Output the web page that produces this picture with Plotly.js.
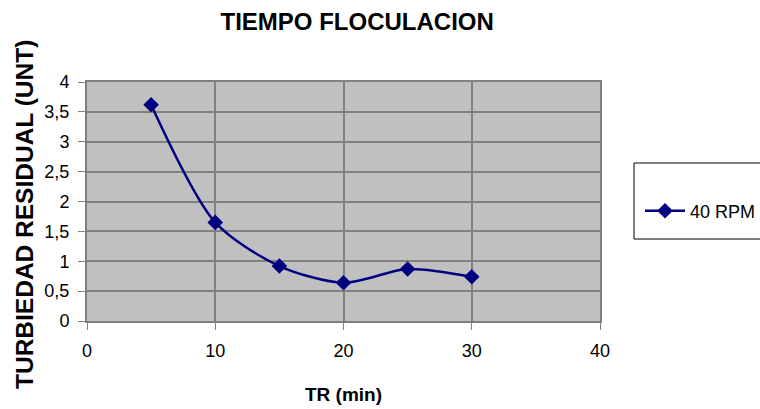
<!DOCTYPE html>
<html>
<head>
<meta charset="utf-8">
<script src="https://cdn.plot.ly/plotly-3.0.1.min.js"></script>
<style>html,body{margin:0;padding:0;background:#fff;}#chart{width:760px;height:409px;}</style>
</head>
<body>
<div id="chart"></div>
<script>
const tiempo = [5, 10, 15, 20, 25, 30];
const turbiedad = [3.62, 1.65, 0.92, 0.64, 0.87, 0.74];
const serieNombre = '40 RPM';
const tituloGrafico = 'TIEMPO FLOCULACION';
const tituloX = 'TR (min)';
const tituloY = 'TURBIEDAD RESIDUAL (UNT)';

const trace = {
  x: tiempo,
  y: turbiedad,
  name: serieNombre,
  type: 'scatter',
  mode: 'lines+markers',
  line: {color: '#000080', width: 2.5, shape: 'spline', smoothing: 0.8},
  marker: {symbol: 'diamond', size: 12, color: '#000080'}
};

const fam = '"Liberation Sans", Arial, sans-serif';
const layout = {
  width: 760, height: 409,
  margin: {l: 87, r: 160, t: 82, b: 88, autoexpand: false},
  paper_bgcolor: '#ffffff',
  plot_bgcolor: '#c0c0c0',
  separators: ',.',
  showlegend: true,
  title: {text: '<b>' + tituloGrafico + '</b>', x: 0.47, xanchor: 'center', y: 0.946, yanchor: 'middle',
          font: {family: fam, size: 24, color: '#000'}},
  xaxis: {
    range: [0, 40], dtick: 10, tick0: 0,
    showgrid: true, gridcolor: '#808080', gridwidth: 2,
    zeroline: false,
    showline: true, linecolor: '#808080', linewidth: 2, mirror: true,
    ticks: 'outside', ticklen: 7, tickcolor: '#808080', tickwidth: 1,
    ticklabelstandoff: 5,
    tickfont: {family: fam, size: 18, color: '#000'},
    title: {text: '<b>' + tituloX + '</b>', font: {family: fam, size: 19, color: '#000'}, standoff: 28}
  },
  yaxis: {
    range: [0, 4], dtick: 0.5, tick0: 0,
    showgrid: true, gridcolor: '#808080', gridwidth: 2,
    zeroline: false,
    showline: true, linecolor: '#808080', linewidth: 2, mirror: true,
    ticks: 'outside', ticklen: 7, tickcolor: '#808080', tickwidth: 1,
    ticklabelstandoff: 5,
    tickfont: {family: fam, size: 18, color: '#000'}
  },
  annotations: [{
    text: '<b>' + tituloY + '</b>', textangle: -90,
    xref: 'paper', yref: 'paper', x: (24 - 87) / 513, y: (321 - 215) / 239,
    xanchor: 'center', yanchor: 'middle', showarrow: false,
    font: {family: fam, size: 24.5, color: '#000'}
  }],
  shapes: [{
    type: 'rect', xref: 'paper', yref: 'paper',
    x0: 1.0663, x1: 1.35, y0: 0.343, y1: 0.661,
    line: {color: '#000000', width: 1}, fillcolor: '#ffffff', layer: 'below'
  }],
  legend: {
    x: 1.078, xanchor: 'left', y: 0.46, yanchor: 'middle',
    bgcolor: 'rgba(0,0,0,0)', borderwidth: 0,
    itemwidth: 40,
    font: {family: fam, size: 18, color: '#000'}
  }
};

Plotly.newPlot('chart', [trace], layout, {displayModeBar: false, staticPlot: true});
</script>
</body>
</html>
